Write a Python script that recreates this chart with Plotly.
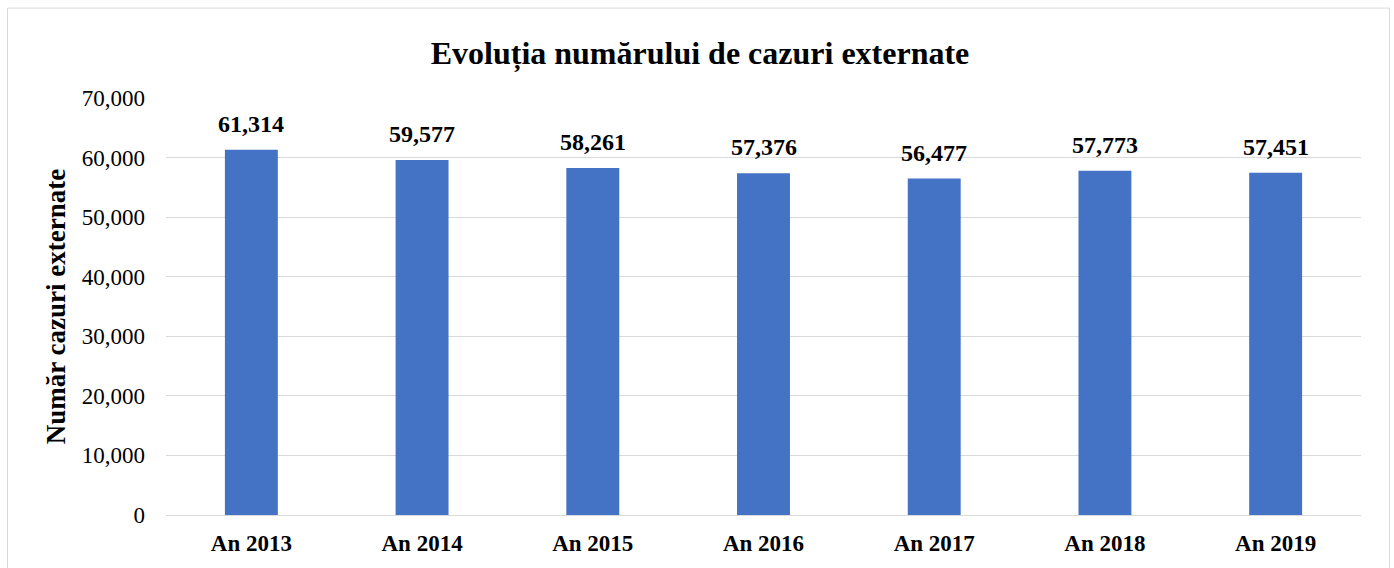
import plotly.graph_objects as go

categories = ["An 2013", "An 2014", "An 2015", "An 2016", "An 2017", "An 2018", "An 2019"]
values = [61314, 59577, 58261, 57376, 56477, 57773, 57451]
labels = [f"{v:,}" for v in values]
tick_vals = [0, 10000, 20000, 30000, 40000, 50000, 60000, 70000]
tick_text = [f"{v:,}" for v in tick_vals]

FONT = "Liberation Serif, Times New Roman, serif"

fig = go.Figure(go.Bar(
    x=categories, y=values,
    marker=dict(color="#4472C4", line=dict(width=0)),
    width=0.31,
))

for c, v, t in zip(categories, values, labels):
    fig.add_annotation(x=c, y=v, text=f"<b>{t}</b>", showarrow=False,
                       yanchor="bottom", yshift=11,
                       font=dict(family=FONT, size=24, color="black"))

W, H = 1394, 568
L, R, T, B = 166, 33, 97.5, 53
pw, ph = W - L - R, H - T - B

def px(x):
    return (x - L) / pw

def py(y):
    return (H - B - y) / ph

fig.update_layout(
    width=W, height=H,
    margin=dict(l=L, r=R, t=T, b=B),
    paper_bgcolor="white", plot_bgcolor="white",
    font=dict(family=FONT, color="black"),
    title=dict(text="<b>Evoluția numărului de cazuri externate</b>",
               x=700 / W, xref="container", xanchor="center",
               y=1 - 53 / H, yanchor="middle",
               font=dict(size=32, family=FONT, color="black")),
    showlegend=False,
    shapes=[dict(type="rect", xref="paper", yref="paper",
                 x0=px(7.5), x1=px(1389.5), y0=py(575), y1=py(7.5),
                 line=dict(color="#D9D9D9", width=1), fillcolor="rgba(0,0,0,0)",
                 layer="below")],
)
fig.update_yaxes(
    range=[0, 70000], tickvals=tick_vals, ticktext=tick_text,
    showgrid=True, gridcolor="#D9D9D9", gridwidth=1,
    zeroline=True, zerolinecolor="#D9D9D9", zerolinewidth=1,
    showline=False, ticks="", ticklabelstandoff=20,
    tickfont=dict(size=23, family=FONT, color="black"),
    title=dict(text="<b>Număr cazuri externate</b>", standoff=8,
               font=dict(size=27, family=FONT, color="black")),
)
fig.update_xaxes(
    showline=False, ticks="", ticklabelstandoff=12,
    tickfont=dict(size=23, family=FONT, color="black", weight="bold"),
)

fig.write_html("out.html", config={"displayModeBar": False},
               post_script="document.body.style.margin='0';")
